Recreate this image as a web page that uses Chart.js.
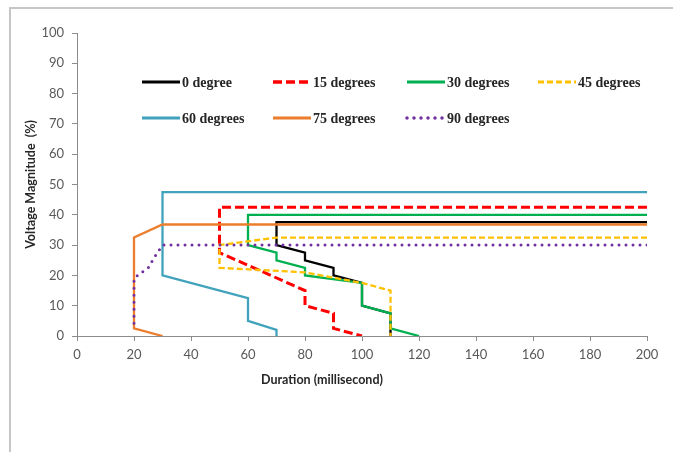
<!DOCTYPE html>
<html>
<head>
<meta charset="utf-8">
<script src="https://cdn.jsdelivr.net/npm/chart.js@4/dist/chart.umd.min.js"></script>
<style>
  body { margin: 0; background: #fff; }
  #wrap { position: relative; width: 673px; height: 452px; overflow: hidden; }
  #chart { position: absolute; left: 0; top: 0; }
  #frame {
    position: absolute; left: 9px; top: 7px; width: 700px; height: 460px;
    border-top: 2px solid #c6c6c6; border-left: 2px solid #c6c6c6;
    pointer-events: none;
  }
</style>
</head>
<body>
<div id="wrap">
  <canvas id="chart" width="673" height="452"></canvas>
  <div id="frame"></div>
</div>
<script>
// series labels
let labels = ["0 degree", "15 degrees", "30 degrees", "45 degrees", "60 degrees", "75 degrees", "90 degrees"];

// curves as [duration ms, voltage %]
let deg0  = [[200, 37.6], [70, 37.6], [70, 30], [80, 27.5], [80, 25], [90, 22.5], [90, 20], [100, 17.5], [100, 10], [110, 7.5], [110, 0]];
let deg15 = [[200, 42.5], [50, 42.5], [50, 27.5], [80, 15], [80, 10], [90, 7.5], [90, 2.5], [100, 0]];
let deg30 = [[200, 40], [60, 40], [60, 30], [70, 27.5], [70, 25], [80, 22.5], [80, 20], [100, 17.5], [100, 10], [110, 7.5], [110, 2.5], [120, 0]];
let deg45 = [[200, 32.5], [70, 32.5], [50, 30], [50, 22.5], [80, 21], [100, 17.5], [110, 15], [110, 0]];
let deg60 = [[200, 47.5], [30, 47.5], [30, 20], [60, 12.5], [60, 5], [70, 2], [70, 0]];
let deg75 = [[200, 36.8], [30, 36.8], [20, 32.5], [20, 2.5], [30, 0]];
let deg90 = [[200, 30], [30, 30], [27.5, 26.5], [25, 22.5], [22, 20.5], [20, 19], [20, 2]];

// axis ticks
let xTicks = [0, 20, 40, 60, 80, 100, 120, 140, 160, 180, 200];
let yTicks = [0, 10, 20, 30, 40, 50, 60, 70, 80, 90, 100];

let curves = [deg0, deg15, deg30, deg45, deg60, deg75, deg90];

let styles = [
  { color: "#000000", width: 2.3, dash: [] },
  { color: "#ff0000", width: 3, dash: [9, 4] },
  { color: "#00b050", width: 2.3, dash: [] },
  { color: "#ffc000", width: 2.3, dash: [6, 3] },
  { color: "#41a2bb", width: 2.3, dash: [] },
  { color: "#eb7d2c", width: 2.3, dash: [] },
  { color: "#7030a0", width: 3, dash: [0, 7], cap: "round" }
];

let datasets = curves.map((c, i) => ({
  label: labels[i],
  data: c.map(p => ({ x: p[0], y: p[1] })),
  showLine: true,
  pointRadius: 0,
  borderColor: styles[i].color,
  borderWidth: styles[i].width,
  borderDash: styles[i].dash,
  borderCapStyle: styles[i].cap || "butt",
  order: curves.length - i
}));

// legend inside the plot, two rows of four columns
const legendCols = [142, 273, 407, 538];
const legendRows = [82, 118];

const inlineLegend = {
  id: "inlineLegend",
  afterDraw(chart) {
    let ctx = chart.ctx;
    chart.data.datasets.forEach((ds, i) => {
      let x = legendCols[i % 4];
      let y = legendRows[Math.floor(i / 4)];
      ctx.save();
      ctx.strokeStyle = ds.borderColor;
      ctx.lineWidth = ds.borderWidth + 0.5;
      ctx.setLineDash(ds.borderDash);
      ctx.lineCap = ds.borderCapStyle;
      ctx.beginPath();
      ctx.moveTo(x, y);
      ctx.lineTo(x + 38, y);
      ctx.stroke();
      ctx.setLineDash([]);
      ctx.fillStyle = "#262626";
      ctx.font = "bold 14px 'Liberation Serif'";
      ctx.textBaseline = "middle";
      ctx.fillText(ds.label, x + 40, y + 1);
      ctx.restore();
    });

    // x axis title sits left of centre in the original
    ctx.save();
    ctx.fillStyle = "#262626";
    ctx.font = "bold 12.5px Lato";
    ctx.textAlign = "center";
    ctx.textBaseline = "middle";
    ctx.fillText("Duration (millisecond)", 322, 380);
    ctx.restore();
  }
};

const tickFont = { family: "Lato", size: 13 };

new Chart(document.getElementById("chart"), {
  type: "scatter",
  data: { datasets: datasets },
  options: {
    responsive: false,
    animation: false,
    devicePixelRatio: 1,
    layout: { padding: { left: 19, top: 33, right: 26, bottom: 61 } },
    plugins: { legend: { display: false }, tooltip: { enabled: false } },
    scales: {
      x: {
        type: "linear",
        min: xTicks[0],
        max: xTicks[xTicks.length - 1],
        afterBuildTicks: s => { s.ticks = xTicks.map(v => ({ value: v })); },
        afterFit: s => { s.height = 55; },
        ticks: { color: "#595959", font: tickFont, padding: 6, maxRotation: 0 },
        grid: { drawOnChartArea: false, drawTicks: true, tickLength: 5, color: "#8c8c8c" },
        border: { color: "#8c8c8c", width: 1 }
      },
      y: {
        min: yTicks[0],
        max: yTicks[yTicks.length - 1],
        afterBuildTicks: s => { s.ticks = yTicks.map(v => ({ value: v })); },
        afterFit: s => { s.width = 58; },
        ticks: { color: "#595959", font: tickFont, padding: 8 },
        grid: { drawOnChartArea: false, drawTicks: true, tickLength: 5, color: "#8c8c8c" },
        border: { color: "#8c8c8c", width: 1 },
        title: { display: true, text: "Voltage Magnitude  (%)", color: "#262626", font: { family: "Lato", size: 12.5, weight: "bold" } }
      }
    }
  },
  plugins: [inlineLegend]
});
</script>
</body>
</html>
